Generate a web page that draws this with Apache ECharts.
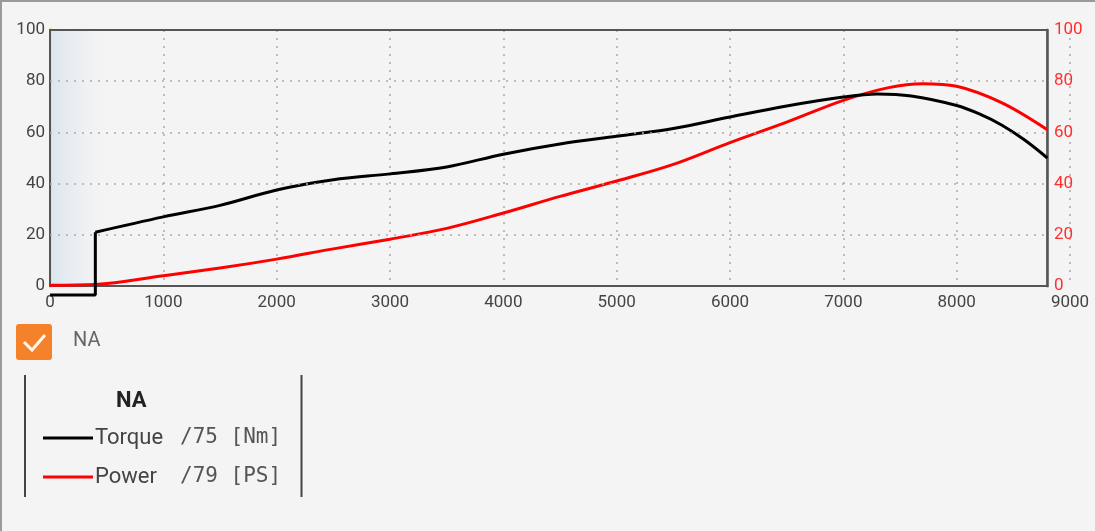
<!DOCTYPE html>
<html>
<head>
<meta charset="utf-8">
<script src="https://cdn.jsdelivr.net/npm/echarts@6/dist/echarts.min.js"></script>
<style>
html,body{margin:0;padding:0;background:#f4f4f4;}
#frame{position:absolute;left:0;top:0;width:1095px;height:531px;box-sizing:border-box;border-top:2px solid #9a9a9a;border-left:2px solid #9a9a9a;pointer-events:none;}
#chart{position:absolute;left:0;top:0;width:1095px;height:531px;}
</style>
</head>
<body>
<div id="chart"></div>
<div id="frame"></div>
<script>
// ---- data ----
const rpmStep = [0, 400, 400];
const torqueStep = [-3.5, -3.5, 21];
const rpm = [400, 1000, 1500, 2000, 2500, 3000, 3500, 4000, 4500, 5000, 5500, 6000, 6500, 7000, 7300, 7600, 8000, 8200, 8400, 8600, 8800];
const torque = [21, 27, 31.5, 37.5, 41.5, 43.8, 46.5, 51.5, 55.5, 58.5, 61.5, 66, 70.3, 73.8, 75, 74.2, 70.5, 67.2, 62.8, 57, 50];
const rpmPower = [0, 400, 1000, 1500, 2000, 2500, 3000, 3500, 4000, 4500, 5000, 5500, 6000, 6500, 7000, 7400, 7700, 8000, 8400, 8800];
const power = [0.3, 0.6, 4, 7, 10.5, 14.5, 18.3, 22.5, 28.5, 35, 41, 47.5, 56, 64, 72.5, 77.5, 79, 78, 71.5, 61];
const xTicks = [0, 1000, 2000, 3000, 4000, 5000, 6000, 7000, 8000, 9000];
const yTicks = [0, 20, 40, 60, 80, 100];
const rpmEnd = 8800;
const seriesNames = ['Torque', 'Power'];
const seriesUnits = ['/75 [Nm]', '/79 [PS]'];
const groupName = 'NA';

const zip = (xs, ys) => xs.map((x, i) => [x, ys[i]]);
const hLines = yTicks.slice(1, -1).map(v => [{coord: [0, v]}, {coord: [rpmEnd, v]}]);

const chart = echarts.init(document.getElementById('chart'), null, {renderer: 'canvas'});
chart.setOption({
  backgroundColor: '#f4f4f4',
  animation: false,
  grid: {left: 50, right: 25, top: 30, bottom: 245, containLabel: false},
  xAxis: {
    type: 'value', min: xTicks[0], max: xTicks[xTicks.length - 1], interval: 1000,
    axisLine: {show: false}, axisTick: {show: false},
    axisLabel: {color: '#444', fontSize: 17, fontFamily: 'Roboto', margin: 8, formatter: v => String(v)},
    splitLine: {show: true, lineStyle: {color: '#aaa', type: [2, 6], width: 1.5}}
  },
  yAxis: [{
    type: 'value', min: 0, max: 100, interval: 20, position: 'left',
    axisLine: {show: true, lineStyle: {color: '#f5a300', width: 3}},
    axisTick: {show: false},
    axisLabel: {color: '#444', fontSize: 17, fontFamily: 'Roboto', margin: 5},
    splitLine: {show: false}
  }, {
    type: 'value', min: 0, max: 100, interval: 20, position: 'right', offset: -23,
    axisLine: {show: true, lineStyle: {color: '#8a8a8a', width: 3}},
    axisTick: {show: false},
    axisLabel: {color: '#ff3030', fontSize: 17, fontFamily: 'Roboto', margin: 7},
    splitLine: {show: false}
  }],
  legend: {
    orient: 'vertical', left: 38, top: 422, itemWidth: 50, itemHeight: 3, itemGap: 17,
    icon: 'rect', data: seriesNames,
    formatter: name => '{n|' + name + '}{u|' + seriesUnits[seriesNames.indexOf(name)] + '}',
    textStyle: {
      color: '#444', padding: [0, 0, 0, -3],
      rich: {
        n: {fontFamily: 'Roboto', fontSize: 22, color: '#444', width: 85, height: 25},
        u: {fontFamily: 'DejaVu Sans Mono', fontSize: 21, color: '#555', height: 25}
      }
    }
  },
  title: {
    text: groupName, left: 111, top: 385,
    textStyle: {fontFamily: 'Roboto', fontSize: 22, fontWeight: 'bold', color: '#222'}
  },
  graphic: [
    {type: 'rect', shape: {x: 16, y: 324, width: 36, height: 36, r: 3}, style: {fill: '#f5822a'}},
    {type: 'polyline', shape: {points: [[24, 342], [32, 350], [45, 335]]}, style: {stroke: '#fff6ee', lineWidth: 3, fill: null}},
    {type: 'text', x: 73, y: 331, style: {text: groupName, fontFamily: 'Roboto', fontSize: 20, fill: '#666'}},
    {type: 'line', shape: {x1: 25, y1: 375, x2: 25, y2: 497}, style: {stroke: '#444', lineWidth: 2}},
    {type: 'line', shape: {x1: 301.5, y1: 375, x2: 301.5, y2: 497}, style: {stroke: '#444', lineWidth: 2}}
  ],
  series: [
    {
      name: 'Power', type: 'line', yAxisIndex: 0, data: zip(rpmPower, power), smooth: 0.35,
      showSymbol: false, symbol: 'none', clip: false,
      lineStyle: {color: '#ff0000', width: 3}, itemStyle: {color: '#ff0000'}, z: 3,
      markArea: {
        silent: true,
        data: [
          [{xAxis: 0, yAxis: 0, itemStyle: {color: {type: 'linear', x: 0, y: 0, x2: 1, y2: 0,
            colorStops: [{offset: 0, color: 'rgba(218,227,237,0.95)'}, {offset: 0.5, color: 'rgba(232,237,242,0.6)'}, {offset: 1, color: 'rgba(244,244,244,0)'}]}}},
           {xAxis: 560, yAxis: 100}]
        ]
      },
      markLine: {
        silent: true, symbol: 'none', label: {show: false},
        lineStyle: {color: '#aaa', type: [2, 6], width: 1.5},
        data: hLines
      }
    },
    {
      name: 'Torque', type: 'line', yAxisIndex: 0, data: zip(rpmStep, torqueStep), smooth: false,
      showSymbol: false, symbol: 'none', clip: false,
      lineStyle: {color: '#000', width: 3}, itemStyle: {color: '#000'}, z: 4,
      markArea: {
        silent: true,
        itemStyle: {color: 'rgba(0,0,0,0)', borderColor: '#555', borderWidth: 2},
        data: [[{xAxis: 0, yAxis: 0}, {xAxis: rpmEnd, yAxis: 100}]]
      }
    },
    {
      name: 'Torque', type: 'line', yAxisIndex: 0, data: zip(rpm, torque), smooth: 0.35,
      showSymbol: false, symbol: 'none', clip: false,
      lineStyle: {color: '#000', width: 3}, itemStyle: {color: '#000'}, z: 4
    }
  ]
});
</script>
</body>
</html>
